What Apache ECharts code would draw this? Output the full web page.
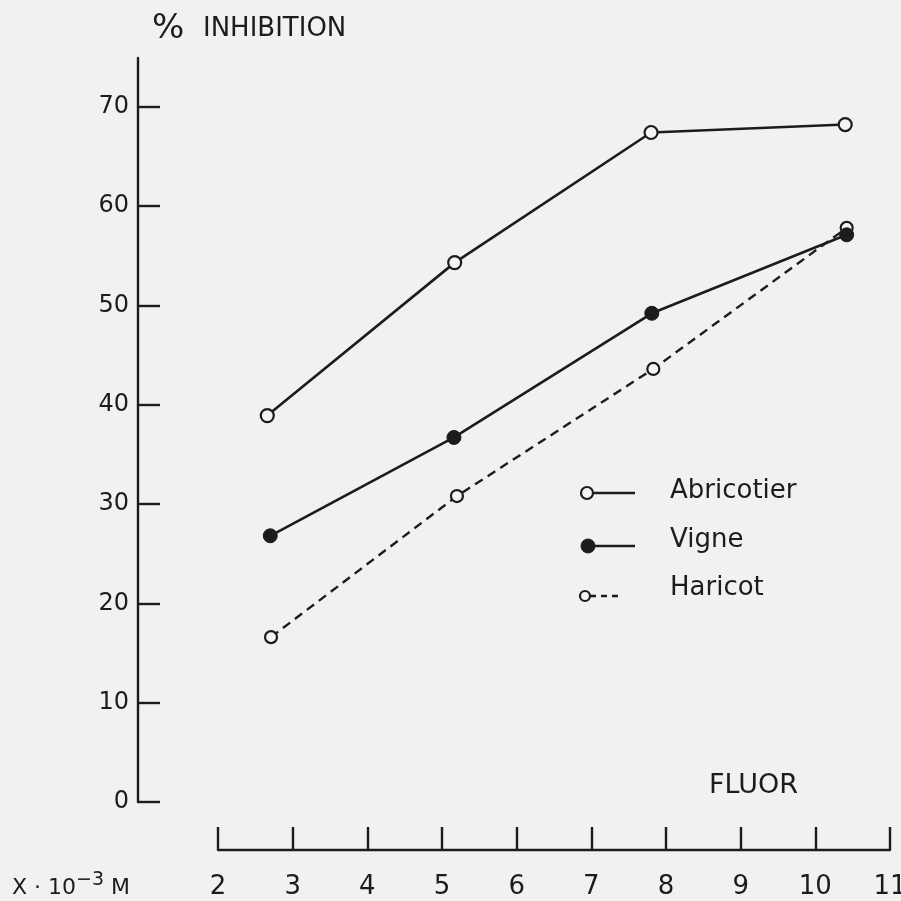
<!DOCTYPE html>
<html>
<head>
<meta charset="utf-8">
<script src="https://cdn.jsdelivr.net/npm/echarts@6/dist/echarts.min.js"></script>
<style>
html,body{margin:0;padding:0;background:#f1f1ef;}
#chart{width:901px;height:901px;}
</style>
</head>
<body>
<div id="chart"></div>
<script>
// Fluor concentration (x 10^-3 M) and % inhibition
const abricotierX = [2.66, 5.17, 7.80, 10.40];
const abricotierY = [38.9, 54.3, 67.4, 68.2];
const vigneX = [2.70, 5.16, 7.81, 10.42];
const vigneY = [26.8, 36.7, 49.2, 57.1];
const haricotX = [2.71, 5.20, 7.83, 10.42];
const haricotY = [16.6, 30.8, 43.6, 57.8];
const yTicks = [0, 10, 20, 30, 40, 50, 60, 70];
const xTicks = [2, 3, 4, 5, 6, 7, 8, 9, 10, 11];
const seriesNames = ['Abricotier', 'Vigne', 'Haricot'];

const INK = '#1c1c1c';
const FONT = 'DejaVu Sans';
const pairs = (xs, ys) => xs.map((x, i) => [x, ys[i]]);

const chart = echarts.init(document.getElementById('chart'), null, {renderer: 'canvas'});

const option = {
  backgroundColor: '#f1f1ef',
  animation: false,
  grid: {left: 218, right: 11, top: 58, bottom: 99, containLabel: false, outerBoundsMode: 'none'},
  xAxis: {
    type: 'value',
    min: xTicks[0],
    max: xTicks[xTicks.length - 1],
    interval: 1,
    offset: 48,
    axisLine: {show: true, onZero: false, lineStyle: {color: INK, width: 2.4}},
    axisTick: {show: true, inside: true, length: 23, lineStyle: {color: INK, width: 2.4}},
    axisLabel: {show: true, color: INK, fontFamily: FONT, fontSize: 26, margin: 24,
      customValues: xTicks},
    splitLine: {show: false}
  },
  yAxis: {
    type: 'value',
    min: 0,
    max: 74.9,
    offset: 80,
    axisLine: {show: true, onZero: false, lineStyle: {color: INK, width: 2.4}},
    axisTick: {show: true, inside: true, length: 22, customValues: yTicks,
      lineStyle: {color: INK, width: 2.4}},
    axisLabel: {show: true, color: INK, fontFamily: FONT, fontSize: 24, margin: 9,
      customValues: yTicks},
    splitLine: {show: false}
  },
  series: [
    {
      name: seriesNames[2], type: 'line', data: pairs(haricotX, haricotY),
      symbol: 'circle', symbolSize: 12,
      itemStyle: {color: '#f4f4f2', borderColor: INK, borderWidth: 2.2},
      lineStyle: {color: INK, width: 2.4, type: [9, 6]}, z: 2
    },
    {
      name: seriesNames[1], type: 'line', data: pairs(vigneX, vigneY),
      symbol: 'circle', symbolSize: 14,
      itemStyle: {color: INK, borderColor: INK, borderWidth: 1},
      lineStyle: {color: INK, width: 2.6}, z: 3
    },
    {
      name: seriesNames[0], type: 'line', data: pairs(abricotierX, abricotierY),
      symbol: 'circle', symbolSize: 13,
      itemStyle: {color: '#f4f4f2', borderColor: INK, borderWidth: 2.2},
      lineStyle: {color: INK, width: 2.6}, z: 4
    }
  ],
  graphic: [
    {type: 'text', left: 152, top: 12, style: {text: '%', font: '34px "DejaVu Sans"', fill: INK}},
    {type: 'text', left: 203, top: 16, style: {text: 'INHIBITION', font: '26px "DejaVu Sans"', fill: INK}},
    {type: 'text', left: 709, top: 772, style: {text: 'FLUOR', font: '27px "DejaVu Sans"', fill: INK}},
    {type: 'text', left: 12, top: 871, style: {
      text: '{n|X · 10}{s|−3}{n| M}',
      rich: {
        n: {font: '22px "DejaVu Sans"', fill: INK, verticalAlign: 'bottom', height: 30},
        s: {font: '19px "DejaVu Sans"', fill: INK, verticalAlign: 'top', height: 30, padding: [0, 0, 8, 0]}
      }
    }},
    // legend
    {type: 'line', shape: {x1: 592, y1: 493, x2: 635, y2: 493}, style: {stroke: INK, lineWidth: 2.6}},
    {type: 'circle', shape: {cx: 587, cy: 493, r: 6}, style: {fill: '#f4f4f2', stroke: INK, lineWidth: 2.2}},
    {type: 'text', x: 670, y: 491, style: {text: seriesNames[0], font: '26px "DejaVu Sans"', fill: INK, verticalAlign: 'middle'}},
    {type: 'line', shape: {x1: 592, y1: 546, x2: 635, y2: 546}, style: {stroke: INK, lineWidth: 2.6}},
    {type: 'circle', shape: {cx: 588, cy: 546, r: 7}, style: {fill: INK, stroke: INK, lineWidth: 1}},
    {type: 'text', x: 670, y: 540, style: {text: seriesNames[1], font: '26px "DejaVu Sans"', fill: INK, verticalAlign: 'middle'}},
    {type: 'line', shape: {x1: 590, y1: 596, x2: 620, y2: 596}, style: {stroke: INK, lineWidth: 2.4, lineDash: [6, 5]}},
    {type: 'circle', shape: {cx: 585, cy: 596, r: 5}, style: {fill: '#f4f4f2', stroke: INK, lineWidth: 2.2}},
    {type: 'text', x: 670, y: 588, style: {text: seriesNames[2], font: '26px "DejaVu Sans"', fill: INK, verticalAlign: 'middle'}}
  ]
};
chart.setOption(option);
</script>
</body>
</html>
